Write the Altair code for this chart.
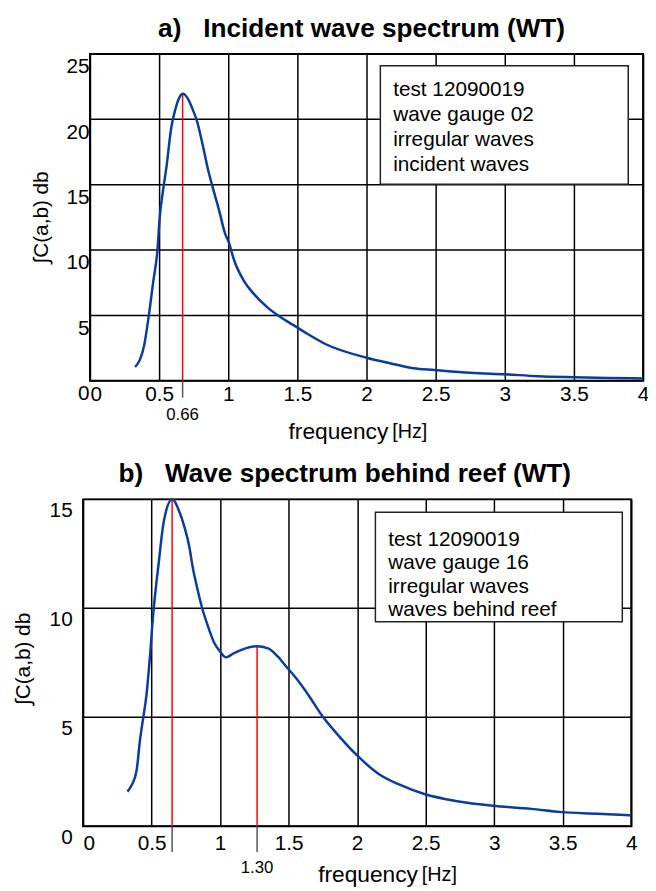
import altair as alt
import pandas as pd

FONT = "Liberation Sans"
BLUE = "#0a3c9c"
RED = "#ff0000"

# ---- data ----
freq_a = [0.326, 0.362, 0.393, 0.426, 0.457, 0.488, 0.505, 0.529, 0.553, 0.588,
          0.617, 0.648, 0.672, 0.707, 0.743, 0.774, 0.814, 0.855, 0.886, 0.933,
          0.976, 1.005, 1.040, 1.112, 1.183, 1.279, 1.374, 1.469, 1.564, 1.71,
          2.0, 2.17, 2.34, 2.49, 2.75, 3.0, 3.24, 3.5, 3.75, 4.0]
spec_a = [1.06, 1.64, 2.77, 5.03, 7.55, 10.0, 12.58, 14.6, 16.35, 19.37,
          20.75, 21.7, 21.95, 21.6, 20.75, 19.87, 18.1, 16.1, 14.85, 13.08,
          11.3, 10.57, 9.3, 7.67, 6.67, 5.66, 4.9, 4.28, 3.65, 2.78,
          1.77, 1.35, 0.96, 0.83, 0.62, 0.5, 0.36, 0.28, 0.22, 0.18]

freq_b = [0.324, 0.355, 0.391, 0.415, 0.439, 0.463, 0.487, 0.511, 0.53, 0.552,
          0.583, 0.607, 0.65, 0.703, 0.739, 0.775, 0.799, 0.835, 0.871, 0.918,
          0.954, 1.002, 1.043, 1.098, 1.17, 1.266, 1.35, 1.422, 1.482, 1.554,
          1.65, 1.746, 1.866, 2.0, 2.16, 2.31, 2.49, 2.73, 2.99, 3.27,
          3.49, 3.75, 4.0]
spec_b = [1.59, 1.89, 2.57, 3.93, 4.98, 6.04, 7.7, 9.67, 10.88, 12.08,
          13.75, 14.5, 15.0, 14.43, 13.75, 12.84, 11.93, 10.88, 9.97, 9.06,
          8.46, 8.0, 7.75, 7.93, 8.13, 8.26, 8.16, 7.78, 7.33, 6.8,
          5.97, 5.06, 4.15, 3.25, 2.39, 1.91, 1.48, 1.15, 0.94, 0.8,
          0.65, 0.58, 0.5]

x_ticks = [0, 0.5, 1, 1.5, 2, 2.5, 3, 3.5, 4]
y_ticks_a = [0, 5, 10, 15, 20, 25]
y_ticks_b = [0, 5, 10, 15]

peaks_a = [0.67]
peak_vals_a = [21.9]
peak_labels_a = ["0.66"]
peaks_b = [0.65, 1.27]
peak_vals_b = [15.0, 8.26]
peak_labels_b = ["", "1.30"]

info_a = ["test 12090019", "wave gauge 02", "irregular waves", "incident waves"]
info_b = ["test 12090019", "wave gauge 16", "irregular waves", "waves behind reef"]

title_a = "a)\u00a0\u00a0\u00a0Incident wave spectrum (WT)"
title_b = "b)\u00a0\u00a0\u00a0Wave spectrum behind reef (WT)"
y_title = "\u222bC(a,b) db"
x_title = "frequency"
x_unit = "[Hz]"


def make_panel(freqs, specs, ymax, yticks, peaks, peak_vals, peak_labels,
               info, title, W, H, p):
    s = p["shift"]
    curve = pd.DataFrame({"f": freqs, "s": specs})
    marks = pd.DataFrame({"p": peaks, "v": peak_vals, "z": [0] * len(peaks),
                          "lab": peak_labels})
    grid = pd.DataFrame({"t": yticks, "x0": [0] * len(yticks),
                         "x1": [4] * len(yticks)})
    frame = pd.DataFrame({"x0": [0], "x1": [4], "y0": [0], "y1": [ymax]})
    one = pd.DataFrame({"k": [0]})
    xs = alt.Scale(domain=[0, 4], range=[s, W], nice=False, zero=False)
    ys = alt.Scale(domain=[0, ymax], nice=False)

    def xenc(field):
        return alt.X(field, type="quantitative", scale=xs, axis=alt.Axis(
            values=x_ticks, format="~g", grid=True, gridColor="black",
            gridWidth=1.5, domain=False, ticks=False, tickSize=0,
            labelFont=FONT, labelFontSize=21, labelColor="black",
            labelPadding=p["xlp"], labelOverlap=False, labelFlush=False,
            labelAlign={"condition": {"test": "datum.value == 0", "value": "left"},
                        "value": "center"},
            title=None))

    def yenc(field):
        return alt.Y(field, type="quantitative", scale=ys, axis=alt.Axis(
            values=yticks, grid=False, domain=False, ticks=False, tickSize=0,
            labelFont=FONT, labelFontSize=21, labelColor="black",
            labelPadding=p["ylp"] - s, labelBaseline="top",
            labelOffset=p["ylo"], labelOverlap=False, labelFlush=False,
            title=None))

    hgrid = alt.Chart(grid).mark_rule(color="black", strokeWidth=1.5).encode(
        x=xenc("x0"), x2="x1:Q", y=yenc("t"))
    box = alt.Chart(one).mark_rect(fill="white", stroke="#222", strokeWidth=1.5).encode(
        x=alt.value(p["bx1"] + s), x2=alt.value(p["bx2"] + s),
        y=alt.value(p["by1"]), y2=alt.value(p["by2"]))
    border = alt.Chart(frame).mark_rect(
        fillOpacity=0, stroke="black", strokeWidth=2).encode(
        x=xenc("x0"), x2="x1:Q", y=yenc("y0"), y2="y1:Q")
    txt = alt.Chart(one).mark_text(
        text=info, font=FONT, fontSize=21, align="left", baseline="top",
        lineHeight=p["lh"], color="black").encode(
        x=alt.value(p["tx"] + s), y=alt.value(p["ty"]))
    red = alt.Chart(marks).mark_rule(color=RED, strokeWidth=1.5).encode(
        x=xenc("p"), y=yenc("v"), y2="z:Q")
    line = alt.Chart(curve).mark_line(
        color=BLUE, strokeWidth=2.5, interpolate="monotone").encode(
        x=xenc("f"), y=yenc("s"))
    tick = alt.Chart(marks).mark_rule(color="#555", strokeWidth=1.5).encode(
        x=xenc("p"), y=alt.value(H), y2=alt.value(H + p["tick"]))
    lab = alt.Chart(marks).mark_text(
        font=FONT, fontSize=17, color="black", baseline="middle").encode(
        x=xenc("p"), y=alt.value(p["laby"]), text="lab:N")
    xt1 = alt.Chart(one).mark_text(
        text=x_title, font=FONT, fontSize=23, align="right", baseline="middle",
        color="black").encode(x=alt.value(p["xtx"] + s), y=alt.value(p["xty"]))
    xt2 = alt.Chart(one).mark_text(
        text=x_unit, font=FONT, fontSize=20, align="left", baseline="middle",
        color="black").encode(x=alt.value(p["xtx"] + s + 4), y=alt.value(p["xty"]))
    yt = alt.Chart(one).mark_text(
        text=y_title, font=FONT, fontSize=21, angle=270, align="center",
        baseline="middle", color="black").encode(
        x=alt.value(p["ytx"] + s), y=alt.value(H / 2 + p["yty"]))
    ttl = alt.Chart(one).mark_text(
        text=title, font=FONT, fontSize=26.5, fontWeight="bold", align="center",
        baseline="middle", color="black").encode(
        x=alt.value(p["ttx"] + s), y=alt.value(p["tty"]))
    layers = [hgrid, box, txt, border, red, line, tick, lab, xt1, xt2, yt, ttl]
    return alt.layer(*layers).properties(width=W, height=H)


pa = dict(shift=7, xlp=3, ylp=1, ylo=2, bx1=294, bx2=545, by1=12, by2=132,
          tx=307, ty=26, lh=25.3, tick=17, laby=366, xtx=302, xty=383,
          ytx=-49, yty=0, ttx=275, tty=-25)
pb = dict(shift=0, xlp=7, ylp=11, ylo=0, bx1=296, bx2=546, by1=13, by2=124,
          tx=309, ty=30, lh=23.8, tick=26, laby=373, xtx=339, xty=380,
          ytx=-60, yty=-4, ttx=265, tty=-26)

top = make_panel(freq_a, spec_a, 25, y_ticks_a, peaks_a, peak_vals_a,
                 peak_labels_a, info_a, title_a, 567, 331, pa)
bottom = make_panel(freq_b, spec_b, 15, y_ticks_b, peaks_b, peak_vals_b,
                    peak_labels_b, info_b, title_b, 555, 331, pb)

chart = alt.vconcat(top, bottom, spacing=17).properties(
    autosize=alt.AutoSizeParams(type="none"),
    padding={"left": 76, "top": 41, "right": 572, "bottom": 842},
    background="white",
).configure_view(strokeWidth=0)

chart.save("out.html", embed_options={"renderer": "svg", "actions": False})
